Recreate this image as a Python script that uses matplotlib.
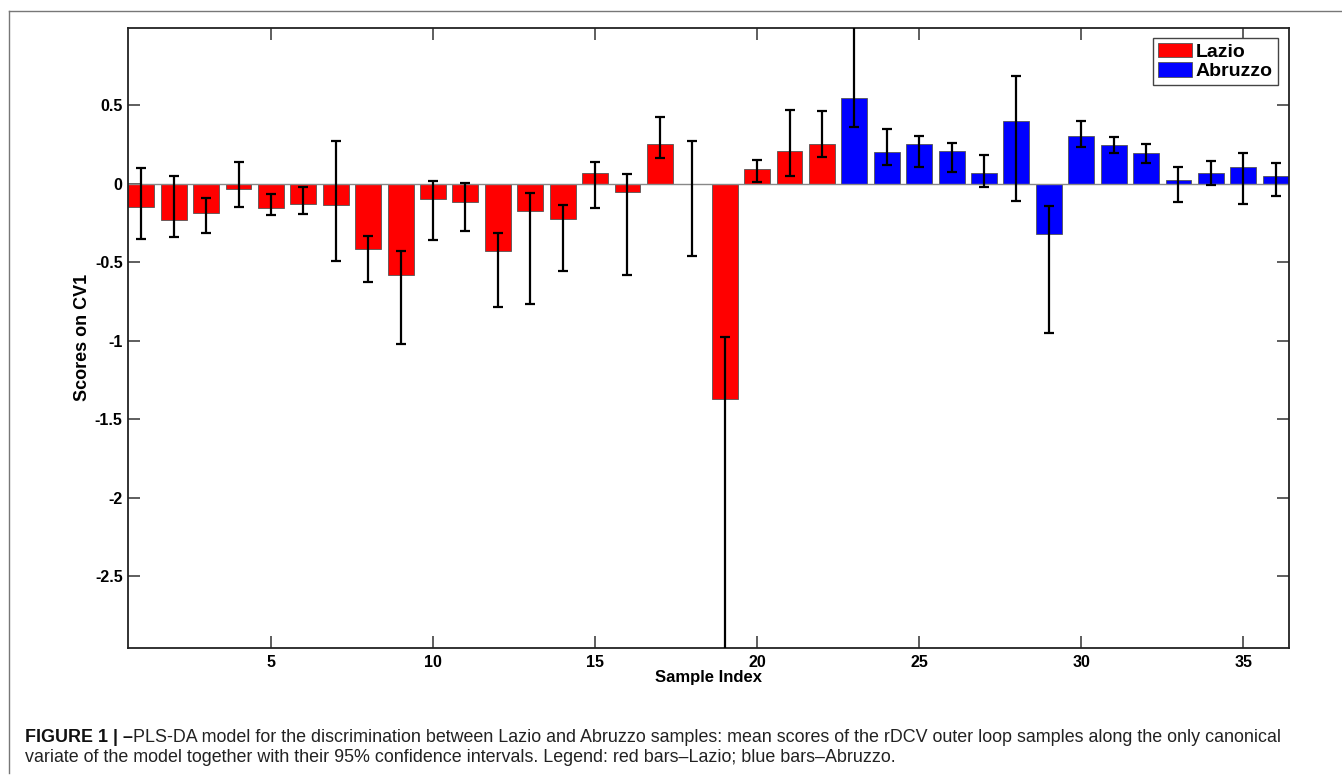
import matplotlib
matplotlib.use('Agg')
import matplotlib.pyplot as plt
import numpy as np
from matplotlib.patches import Patch
from matplotlib.lines import Line2D

plt.rcParams['font.family'] = ['Liberation Sans', 'DejaVu Sans']

sample_index = list(range(1, 37))
region = ['Lazio'] * 22 + ['Abruzzo'] * 14
mean_scores = [-0.145, -0.232, -0.189, -0.032, -0.153, -0.130, -0.136, -0.415, -0.583, -0.096,
               -0.117, -0.430, -0.174, -0.226, 0.066, -0.053, 0.253, 0.0, -1.369, 0.091,
               0.206, 0.255, 0.549, 0.200, 0.251, 0.206, 0.070, 0.398, -0.320, 0.304,
               0.249, 0.198, 0.023, 0.066, 0.104, 0.051]
ci_low = [-0.353, -0.336, -0.311, -0.149, -0.200, -0.191, -0.494, -0.628, -1.021, -0.360,
          -0.304, -0.787, -0.766, -0.556, -0.157, -0.579, 0.162, -0.462, -3.300, 0.013,
          0.051, 0.168, 0.362, 0.121, 0.106, 0.072, -0.019, -0.109, -0.951, 0.236,
          0.196, 0.132, -0.115, -0.006, -0.128, -0.081]
ci_high = [0.098, 0.051, -0.091, 0.138, -0.068, -0.019, 0.272, -0.332, -0.428, 0.017,
           0.006, -0.313, -0.060, -0.134, 0.138, 0.062, 0.423, 0.270, -0.974, 0.151,
           0.470, 0.466, 1.050, 0.347, 0.304, 0.262, 0.181, 0.689, -0.142, 0.402,
           0.298, 0.255, 0.109, 0.145, 0.194, 0.130]
region_colors = {'Lazio': '#ff0000', 'Abruzzo': '#0000ff'}
y_ticks = [-2.5, -2, -1.5, -1, -0.5, 0, 0.5]
y_tick_labels = ['-2.5', '-2', '-1.5', '-1', '-0.5', '0', '0.5']
x_ticks = [5, 10, 15, 20, 25, 30, 35]

caption_bold = 'FIGURE 1 | \u2013'
caption_line1 = ('PLS-DA model for the discrimination between Lazio and Abruzzo samples: mean scores '
                 'of the rDCV outer loop samples along the only canonical')
caption_line2 = ('variate of the model together with their 95% confidence intervals. '
                 'Legend: red bars\u2013Lazio; blue bars\u2013Abruzzo.')

W, H = 1342, 775
fig = plt.figure(figsize=(W / 100, H / 100), dpi=100)
ax = fig.add_axes([128.3 / W, 1 - 647.7 / H, 1160.4 / W, 620 / H])

x = np.array(sample_index)
m = np.array(mean_scores)
lo = np.array(ci_low)
hi = np.array(ci_high)
cols = [region_colors[r] for r in region]

ax.bar(x, m, width=0.8, color=cols, edgecolor='#555555', linewidth=0.6, zorder=2)
ax.axhline(0, color='#888888', linewidth=1.0, zorder=2.5)
ax.errorbar(x, m, yerr=[m - lo, hi - m], fmt='none', ecolor='black',
            elinewidth=1.6, capsize=3.4, capthick=1.6, zorder=3)

ax.set_xlim(0.6, 36.4)
ax.set_ylim(-2.955, 0.994)
ax.set_xticks(x_ticks)
ax.set_xticklabels([str(t) for t in x_ticks], fontsize=11.5, fontweight='bold')
ax.set_yticks(y_ticks)
ax.set_yticklabels(y_tick_labels, fontsize=11.5, fontweight='bold')
ax.tick_params(direction='in', length=8.6, width=1.1, top=True, right=True, color='#333333')
ax.tick_params(axis='y', pad=4)
ax.tick_params(axis='x', pad=5)
for s in ax.spines.values():
    s.set_linewidth(1.3)
    s.set_color('#222222')

ax.set_xlabel('Sample Index', fontsize=12, fontweight='bold')
ax.set_ylabel('Scores on CV1', fontsize=13, fontweight='bold')
ax.xaxis.set_label_coords(0.5, -0.036)
ax.yaxis.set_label_coords(-0.032, 0.5)

handles = [Patch(facecolor=region_colors[k], edgecolor='#555555', linewidth=0.6, label=k)
           for k in ['Lazio', 'Abruzzo']]
leg = ax.legend(handles=handles, loc='upper right', bbox_to_anchor=(1 - 11 / 1160.4, 1 - 10 / 620),
                borderaxespad=0, prop={'weight': 'bold', 'size': 14}, fancybox=False,
                handlelength=1.75, handleheight=0.8, handletextpad=0.2, labelspacing=0.05,
                borderpad=0.25, framealpha=1)
leg.get_frame().set_edgecolor('#444444')
leg.get_frame().set_linewidth(1.0)

# outer frame (top and left only)
fig.add_artist(Line2D([9 / W, 1], [1 - 10.7 / H, 1 - 10.7 / H], color='#777777', linewidth=1.0))
fig.add_artist(Line2D([9 / W, 9 / W], [1 - 10.7 / H, 1 - 773 / H], color='#777777', linewidth=1.0))

# caption
renderer = fig.canvas.get_renderer()
cap_size = 12.85
t1 = fig.text(25 / W, 1 - 737.5 / H, caption_bold, fontsize=cap_size, fontweight='bold',
              va='center', ha='left', color='#111111')
bb = t1.get_window_extent(renderer)
fig.text(bb.x1 / W, 1 - 737.5 / H, caption_line1, fontsize=cap_size, va='center', ha='left',
         color='#222222')
fig.text(25 / W, 1 - 757.5 / H, caption_line2, fontsize=cap_size, va='center', ha='left',
         color='#222222')

fig.savefig('out.png', dpi=100)
